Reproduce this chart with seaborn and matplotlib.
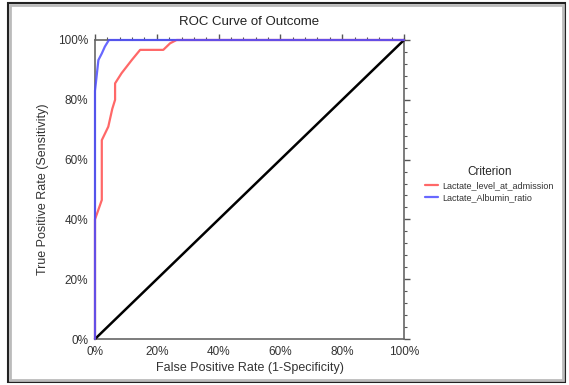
import matplotlib
matplotlib.use("Agg")
import matplotlib.pyplot as plt
import seaborn as sns
import pandas as pd
from matplotlib.ticker import MultipleLocator, PercentFormatter
from matplotlib.patches import Rectangle

# ROC data (percent)
lactate_fpr = [0, 0, 2.2, 2.2, 4.3, 5.6, 6.5, 6.5, 8.6, 11.9, 14.6, 22.1, 24.3, 26.4, 100]
lactate_tpr = [0, 40, 46.5, 66.5, 71, 77, 80, 85.5, 88.9, 93.3, 96.7, 96.7, 98.9, 100, 100]
ratio_fpr = [0, 0, 1.1, 2.2, 3.2, 4.5, 100]
ratio_tpr = [0, 83, 93.3, 95.5, 97.8, 100, 100]
series_names = ["Lactate_level_at_admission", "Lactate_Albumin_ratio"]
ref_line = [0, 100]

df = pd.concat([
    pd.DataFrame({"fpr": lactate_fpr, "tpr": lactate_tpr, "Criterion": series_names[0]}),
    pd.DataFrame({"fpr": ratio_fpr, "tpr": ratio_tpr, "Criterion": series_names[1]}),
], ignore_index=True)

sns.set_style("white")
plt.rcParams["font.family"] = ["Liberation Sans", "DejaVu Sans"]

fig = plt.figure(figsize=(5.69, 3.85), dpi=100)
ax = fig.add_axes([95 / 569, 46 / 385, 309 / 569, 299 / 385])

ax.plot(ref_line, ref_line, color="black", lw=1.8, zorder=2)
sns.lineplot(data=df, x="fpr", y="tpr", hue="Criterion", sort=False, estimator=None,
             palette={series_names[0]: "#ff4d4d", series_names[1]: "#4d4dff"},
             lw=1.6, alpha=0.85, ax=ax, zorder=4, legend=True)
for ln in ax.get_lines():
    ln.set_clip_on(False)

ax.set_xlim(0, 100)
ax.set_ylim(0, 100)
ax.xaxis.set_major_locator(MultipleLocator(20))
ax.yaxis.set_major_locator(MultipleLocator(20))
ax.xaxis.set_minor_locator(MultipleLocator(4))
ax.yaxis.set_minor_locator(MultipleLocator(4))
ax.xaxis.set_major_formatter(PercentFormatter(decimals=0))
ax.yaxis.set_major_formatter(PercentFormatter(decimals=0))
ax.tick_params(which="both", top=True, right=True, direction="out", color="#555555",
               labelsize=8.5, labelcolor="#333333")
ax.tick_params(which="major", length=4, width=1)
ax.tick_params(which="minor", length=2, width=0.8)
ax.tick_params(axis="x", pad=1)
ax.tick_params(axis="y", pad=1)
for s in ax.spines.values():
    s.set_color("#666666")
    s.set_linewidth(1.2)
    s.set_zorder(1)

ax.set_xlabel("False Positive Rate (1-Specificity)", fontsize=9, color="#333333", labelpad=3)
ax.set_ylabel("True Positive Rate (Sensitivity)", fontsize=9, color="#333333", labelpad=6)
ax.set_title("ROC Curve of Outcome", fontsize=9.5, color="#222222", pad=11)

handles, labels = ax.get_legend_handles_labels()
ax.legend(handles, labels, title="Criterion", loc="upper left",
          bbox_to_anchor=(421 / 569, 1 - 162 / 385), bbox_transform=fig.transFigure,
          frameon=False, fontsize=6.5, title_fontsize=8.5, handlelength=1.5,
          handletextpad=0.5, labelspacing=0.35, borderaxespad=0)
leg = ax.get_legend()
for t in leg.get_texts():
    t.set_color("#333333")

# screenshot frame
fig.patches.append(Rectangle((8 / 569, 3 / 385), 557 / 569, 379 / 385, fill=False,
                             edgecolor="#222222", lw=1.5, transform=fig.transFigure))
fig.patches.append(Rectangle((10 / 569, 5 / 385), 553 / 569, 375 / 385, fill=False,
                             edgecolor="#bbbbbb", lw=2, transform=fig.transFigure))

fig.savefig("out.png", dpi=100)
